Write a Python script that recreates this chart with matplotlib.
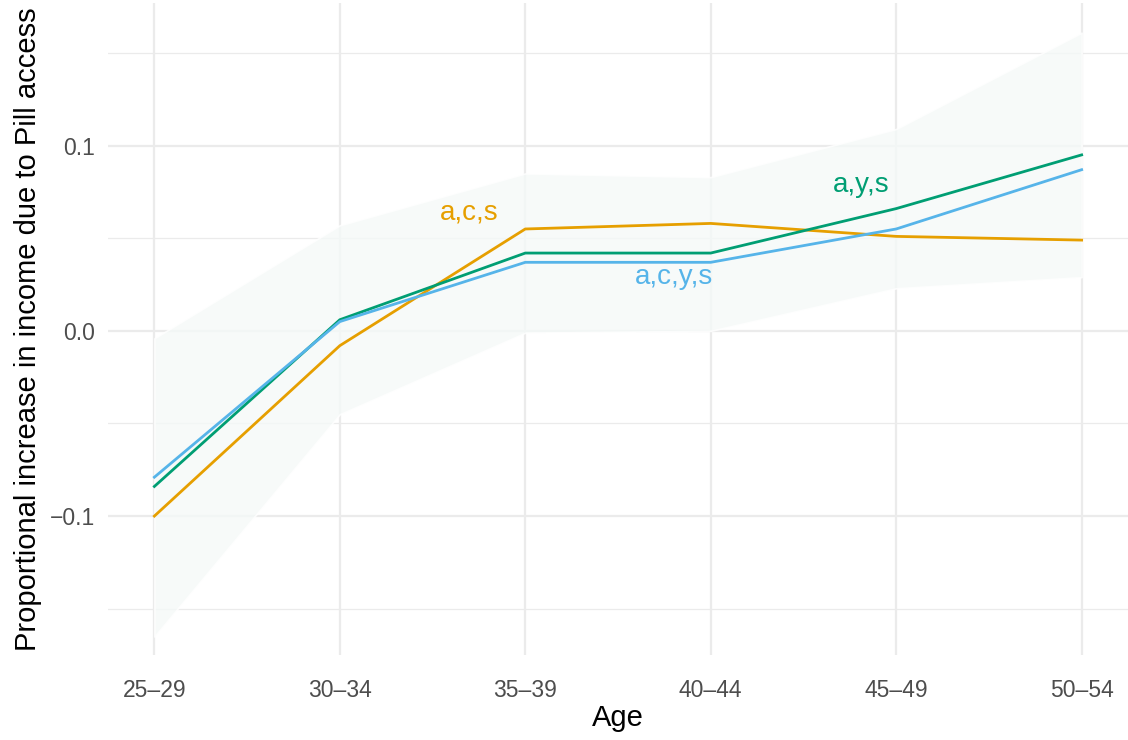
import numpy as np
import matplotlib.pyplot as plt

plt.rcParams['font.family'] = ['Liberation Sans', 'DejaVu Sans']

ages = ['25–29', '30–34', '35–39', '40–44', '45–49', '50–54']
acs = [-0.100, -0.008, 0.055, 0.058, 0.051, 0.049]
ays = [-0.084, 0.006, 0.042, 0.042, 0.066, 0.095]
acys = [-0.079, 0.005, 0.037, 0.037, 0.055, 0.087]
band_hi = [-0.004, 0.057, 0.085, 0.083, 0.109, 0.161]
band_lo = [-0.165, -0.045, -0.001, 0.000, 0.023, 0.029]

x = np.arange(len(ages))

fig = plt.figure(figsize=(11.28, 7.4), dpi=100)
ax = fig.add_axes([108 / 1128, 85 / 740, 1 - 108 / 1128, 652 / 740])

ax.fill_between(x, band_lo, band_hi, facecolor='#f5f9f8', edgecolor='white',
                linewidth=1.2, alpha=0.8, zorder=2)
ax.plot(x, acs, color='#E69F00', lw=2, zorder=3)
ax.plot(x, ays, color='#009E73', lw=2, zorder=3)
ax.plot(x, acys, color='#56B4E9', lw=2, zorder=3)

ax.text(1.70, 0.064, 'a,c,s', color='#E69F00', fontsize=20, ha='center', va='center', zorder=4)
ax.text(2.80, 0.029, 'a,c,y,s', color='#56B4E9', fontsize=20, ha='center', va='center', zorder=4)
ax.text(3.81, 0.079, 'a,y,s', color='#009E73', fontsize=20, ha='center', va='center', zorder=4)

ax.set_xlim(-0.25, 5.25)
ax.set_ylim(-0.175, 0.177)
ax.set_xticks(x)
ax.set_xticklabels(ages)
ax.set_yticks([-0.1, 0.0, 0.1])
ax.set_yticklabels(['−0.1', '0.0', '0.1'])
ax.set_yticks([-0.15, -0.05, 0.05, 0.15], minor=True)

ax.grid(True, which='major', color='#EBEBEB', lw=1.6, zorder=0)
ax.grid(True, which='minor', axis='y', color='#EBEBEB', lw=0.9, zorder=0)
ax.set_axisbelow(True)
for s in ax.spines.values():
    s.set_visible(False)
ax.tick_params(axis='x', length=0, labelsize=16.5, labelcolor='#4D4D4D', pad=17)
ax.tick_params(axis='y', length=0, labelsize=16.5, labelcolor='#4D4D4D', pad=9)
ax.tick_params(which='minor', length=0)

ax.set_xlabel('Age', fontsize=21, labelpad=2)
ax.set_ylabel('Proportional increase in income due to Pill access', fontsize=21, labelpad=6)

fig.savefig('out.png', dpi=100)
